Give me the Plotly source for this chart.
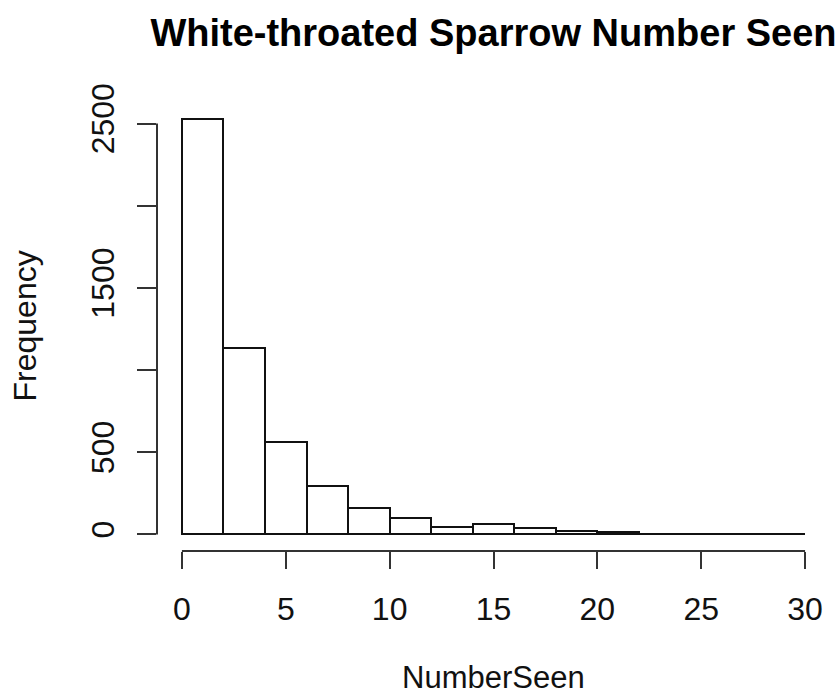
import plotly.graph_objects as go

bin_edges = [0, 2, 4, 6, 8, 10, 12, 14, 16, 18, 20, 22, 24, 26, 28, 30]
counts = [2525, 1136, 562, 292, 160, 100, 48, 62, 38, 20, 12, 3, 5, 4, 2]
x_ticks = [0, 5, 10, 15, 20, 25, 30]
y_ticks = [0, 500, 1000, 1500, 2000, 2500]
y_ticktext = ["0", "500", "", "1500", "", "2500"]

centers = [(bin_edges[i] + bin_edges[i + 1]) / 2 for i in range(len(counts))]
widths = [bin_edges[i + 1] - bin_edges[i] for i in range(len(counts))]

FONT = "Liberation Sans, Arial, Helvetica, sans-serif"

fig = go.Figure()
fig.add_trace(go.Bar(
    x=centers, y=counts, width=widths,
    marker=dict(color="white", line=dict(color="#111111", width=2)),
    showlegend=False, hoverinfo="x+y",
))

fig.update_layout(
    width=839, height=700,
    margin=dict(l=157, r=9, t=102, b=149),
    plot_bgcolor="white", paper_bgcolor="white",
    font=dict(family=FONT, color="#111111"),
    bargap=0,
    title=dict(text="<b>White-throated Sparrow Number Seen</b>",
               font=dict(size=38, family=FONT, color="#000000"),
               x=0.5, xanchor="center", xref="paper", y=1 - 33 / 700, yanchor="middle"),
    xaxis=dict(range=[-1.2, 31.2], tickmode="array", tickvals=x_ticks,
               ticks="outside", ticklen=17, tickwidth=2, tickcolor="#333333",
               showgrid=False, zeroline=False, showline=False,
               tickfont=dict(size=32, family=FONT), ticklabelstandoff=13),
    yaxis=dict(range=[-101, 2631], tickmode="array", tickvals=y_ticks, ticktext=y_ticktext,
               ticks="outside", ticklen=19, tickwidth=2, tickcolor="#333333",
               showgrid=False, zeroline=False, showline=False, tickangle=-90,
               tickfont=dict(size=32, family=FONT), ticklabelstandoff=10),
    shapes=[
        dict(type="line", xref="x", yref="paper", x0=0, x1=30, y0=0, y1=0,
             line=dict(color="#333333", width=2)),
        dict(type="line", xref="paper", yref="y", x0=0, x1=0, y0=0, y1=2500,
             line=dict(color="#333333", width=2)),
    ],
    annotations=[
        dict(text="NumberSeen", xref="paper", yref="paper", x=0.5, y=0,
             xanchor="center", yanchor="bottom", yshift=-(697 - 551), showarrow=False,
             font=dict(size=31, family=FONT, color="#111111")),
        dict(text="Frequency", xref="paper", yref="paper", x=0, y=0.5,
             xanchor="center", yanchor="middle", xshift=-(157 - 24), textangle=-90,
             showarrow=False, font=dict(size=32, family=FONT, color="#111111")),
    ],
)

fig.write_html("out.html")
